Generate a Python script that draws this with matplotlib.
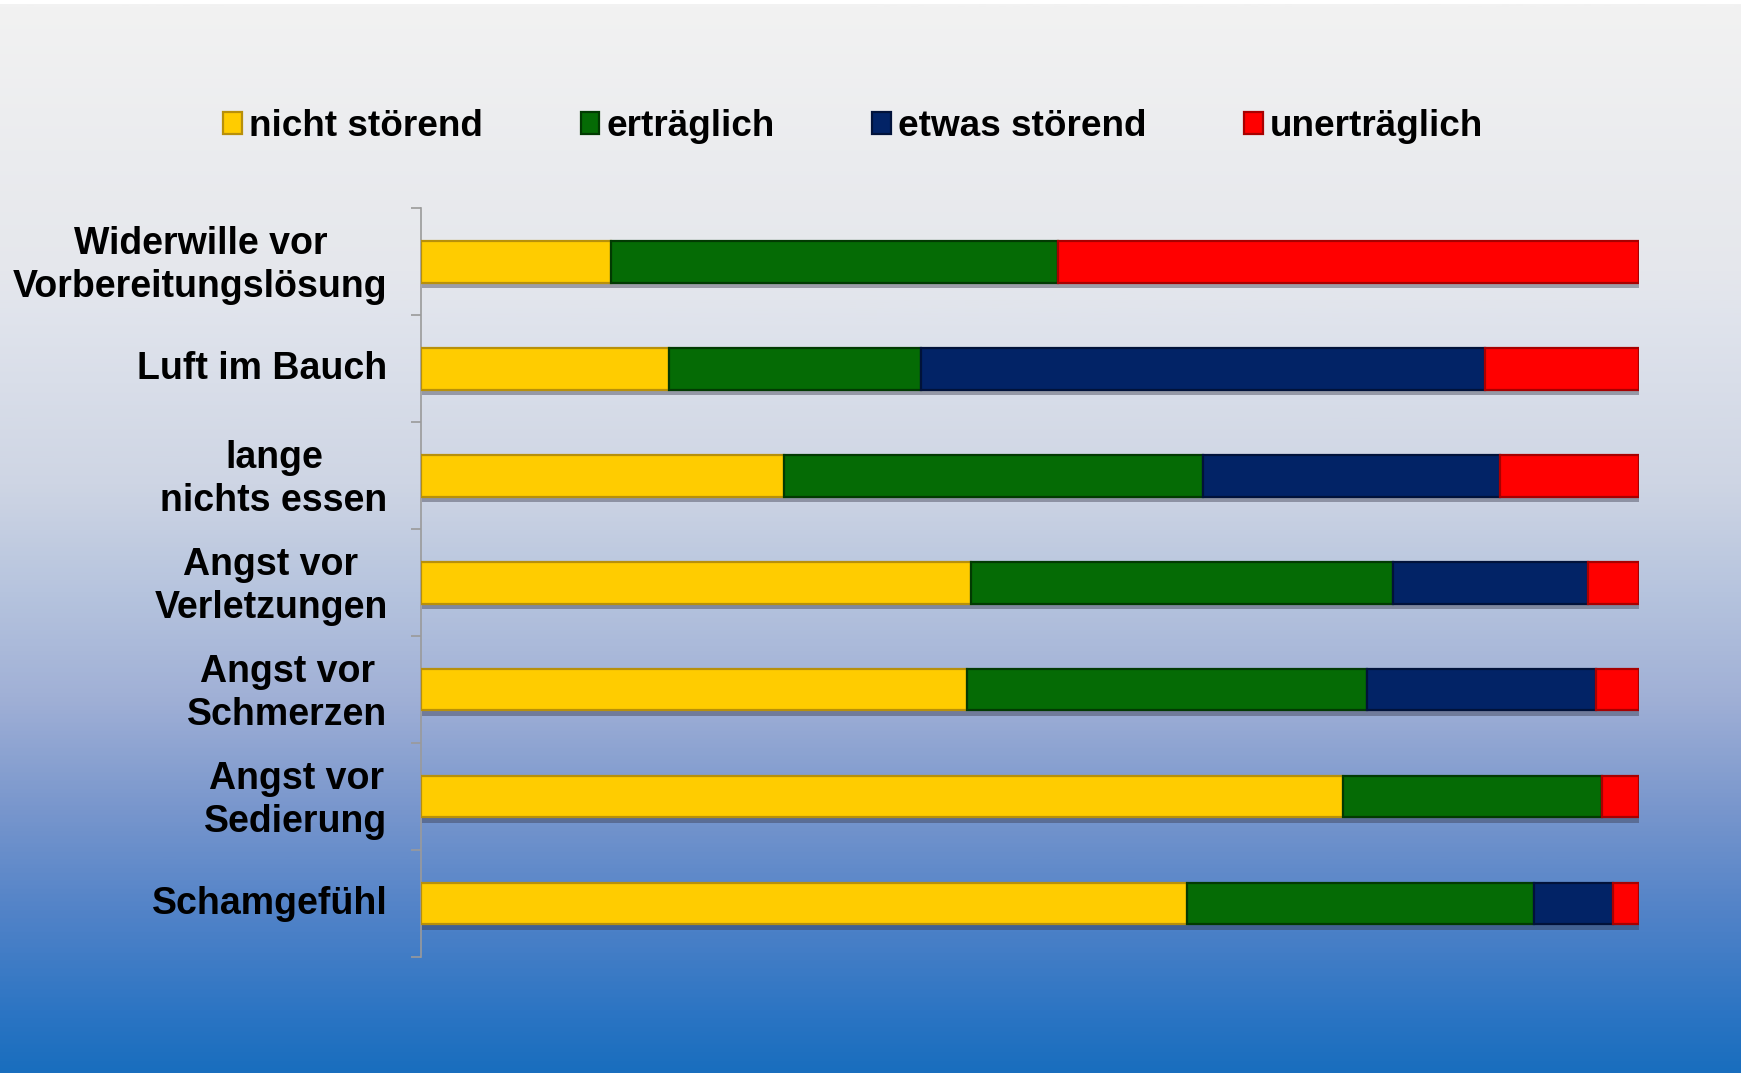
import numpy as np
import matplotlib
matplotlib.use('Agg')
from matplotlib import pyplot as plt
from matplotlib import patheffects as pe
from matplotlib import transforms
from matplotlib.colors import LinearSegmentedColormap

plt.rcParams['font.family'] = ['Liberation Sans', 'DejaVu Sans']
plt.rcParams['font.weight'] = 'bold'

# Daten (Anteile in %)
kategorien = ['Widerwille vor\nVorbereitungslösung', 'Luft im Bauch', 'lange\nnichts essen',
              'Angst vor\nVerletzungen', 'Angst vor\nSchmerzen', 'Angst vor\nSedierung', 'Schamgefühl']
nicht_stoerend = [15.6, 20.4, 29.8, 45.2, 44.8, 75.7, 62.9]
ertraeglich = [36.7, 20.7, 34.4, 34.6, 32.9, 21.3, 28.5]
etwas_stoerend = [0, 46.3, 24.4, 16.0, 18.8, 0, 6.5]
unertraeglich = [47.7, 12.6, 11.4, 4.2, 3.5, 3.0, 2.1]

serien = ['nicht störend', 'erträglich', 'etwas störend', 'unerträglich']
farben = ['#FFCC00', '#056B05', '#022366', '#FF0000']
kanten = ['#B8900A', '#023A02', '#01123A', '#A80000']

fig = plt.figure(figsize=(17.47, 10.73), dpi=100, facecolor='white')

# Hintergrund mit Farbverlauf
bg = fig.add_axes([0, 0, 0.996, 0.996], zorder=-10)
stops = [(0.0, (242, 242, 242)), (0.25, (229, 231, 236)), (0.30, (223, 227, 236)),
         (0.45, (206, 213, 228)), (0.55, (182, 196, 222)), (0.65, (160, 176, 214)),
         (0.75, (122, 151, 205)), (0.85, (82, 131, 200)), (0.95, (42, 116, 195)),
         (1.0, (25, 110, 190))]
cmap = LinearSegmentedColormap.from_list('bg', [(p, np.array(c) / 255) for p, c in stops])
bg.imshow(np.linspace(0, 1, 512).reshape(-1, 1), aspect='auto', cmap=cmap,
          extent=[0, 1, 0, 1], origin='upper')
bg.axis('off')

ax = fig.add_axes([0.241, 0.108, 0.697, 0.698])
ax.patch.set_alpha(0)

y = np.arange(len(kategorien))
links = np.zeros(len(kategorien))
schatten = [pe.SimplePatchShadow(offset=(1, -4), shadow_rgbFace='#333344', alpha=0.4), pe.Normal()]
for name, werte, fc, ec in zip(serien, [nicht_stoerend, ertraeglich, etwas_stoerend, unertraeglich],
                               farben, kanten):
    werte = np.array(werte)
    bars = ax.barh(y, werte, left=links, height=0.39, color=fc, edgecolor=ec,
                   linewidth=1.6, label=name, zorder=3)
    for b in bars:
        b.set_path_effects(schatten)
    links = links + werte

ax.set_xlim(0, 100)
ax.set_ylim(len(kategorien) - 0.5, -0.5)
ax.set_xticks([])
ax.set_yticks(y)
ax.set_yticklabels(kategorien, fontsize=27, fontweight='bold', ha='right',
                   multialignment='center', linespacing=1.25)
ax.tick_params(axis='y', which='major', length=0, pad=24)
# Beschriftungen leicht nach oben
hoch = transforms.ScaledTranslation(0, 0.035, fig.dpi_scale_trans)
for lab in ax.get_yticklabels():
    lab.set_transform(lab.get_transform() + hoch)
ax.set_yticks(np.arange(len(kategorien) + 1) - 0.5, minor=True)
ax.tick_params(axis='y', which='minor', length=7, width=1.2, color='#9a9a9a')
for s in ['top', 'right', 'bottom']:
    ax.spines[s].set_visible(False)
ax.spines['left'].set_color('#9a9a9a')
ax.spines['left'].set_linewidth(1.2)

leg = fig.legend(loc='center', bbox_to_anchor=(0.4885, 0.882), ncol=4, frameon=False,
                 prop={'size': 26.6, 'weight': 'bold'}, handlelength=0.5, handleheight=0.55,
                 handletextpad=0.2, columnspacing=2.64)
for h in leg.legend_handles:
    h.set_path_effects([])

fig.savefig('out.png', dpi=100, facecolor=fig.get_facecolor())
